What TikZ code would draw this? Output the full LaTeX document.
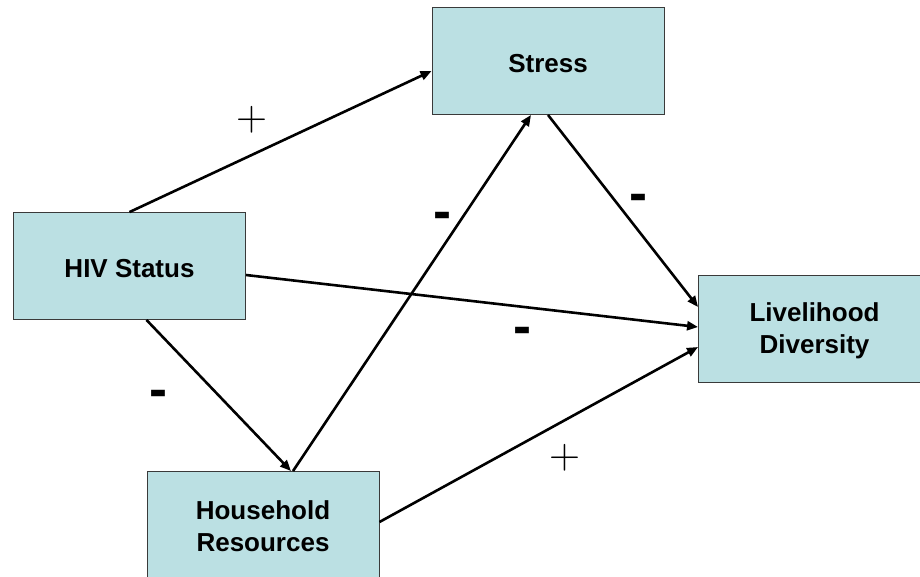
\documentclass[tikz,border=0pt]{standalone}
\usepackage{fontspec}
\newfontfamily\boxfont{Liberation Sans}
\usetikzlibrary{arrows.meta}
\definecolor{boxfill}{HTML}{BBE0E3}
\definecolor{boxline}{HTML}{3A3A3A}
\tikzset{
  factor/.style={draw=boxline, line width=0.9pt, fill=boxfill,
    minimum width=232pt, minimum height=107pt, inner sep=0pt},
  factortext/.style={inner sep=0pt, align=center,
    font=\boxfont\bfseries\fontsize{26}{32}\selectfont},
  link/.style={line width=2.6pt, -{Triangle[length=11pt,width=9pt]}},
  plussign/.style={inner sep=0pt, yshift=-1pt, font=\fontsize{43}{43}\selectfont},
  minussign/.style={inner sep=0pt, yshift=-7pt, font=\boxfont\bfseries\fontsize{54}{54}\selectfont}
}
\begin{document}
\begin{tikzpicture}[x=1pt, y=-1pt]
  \useasboundingbox (0,0) rectangle (920,576);
  \clip (0,0) rectangle (920,576);

  % variables
  \node[factor] (stress) at (548,61) {};
  \node[factor] (hiv) at (129.5,266) {};
  \node[factor] (liv) at (814.5,328.5) {};
  \node[factor] (hh) at (263,525) {};
  \node[factortext] (stresstext) at ([yshift=-3pt]stress.center) {Stress};
  \node[factortext] (hivtext) at ([yshift=-3pt]hiv.center) {HIV Status};
  \node[factortext] (livtext) at ([yshift=-2pt]liv.center) {Livelihood\\Diversity};
  \node[factortext] (hhtext) at ([yshift=-1pt]hh.center) {Household\\Resources};

  % paths
  \draw[link] (hiv.north) -- ([yshift=-10pt]stress.west);
  \draw[link] ([yshift=-9pt]hiv.east) -- ([yshift=1.5pt]liv.west);
  \draw[link] ([xshift=17pt]hiv.south) -- ([xshift=28pt]hh.north);
  \draw[link] ([xshift=30pt]hh.north) -- ([xshift=-17pt]stress.south);
  \draw[link] (stress.south) -- ([yshift=21.5pt]liv.west);
  \draw[link] ([yshift=3pt]hh.east) -- ([yshift=-18.5pt]liv.west);

  % signs of the effects
  \node[plussign] (s1) at (252,119) {+};
  \node[plussign] (s2) at (565,457) {+};
  \node[minussign] (s3) at (442,214) {-};
  \node[minussign] (s4) at (158,392) {-};
  \node[minussign] (s5) at (638,196) {-};
  \node[minussign] (s6) at (522,329) {-};
\end{tikzpicture}
\end{document}
